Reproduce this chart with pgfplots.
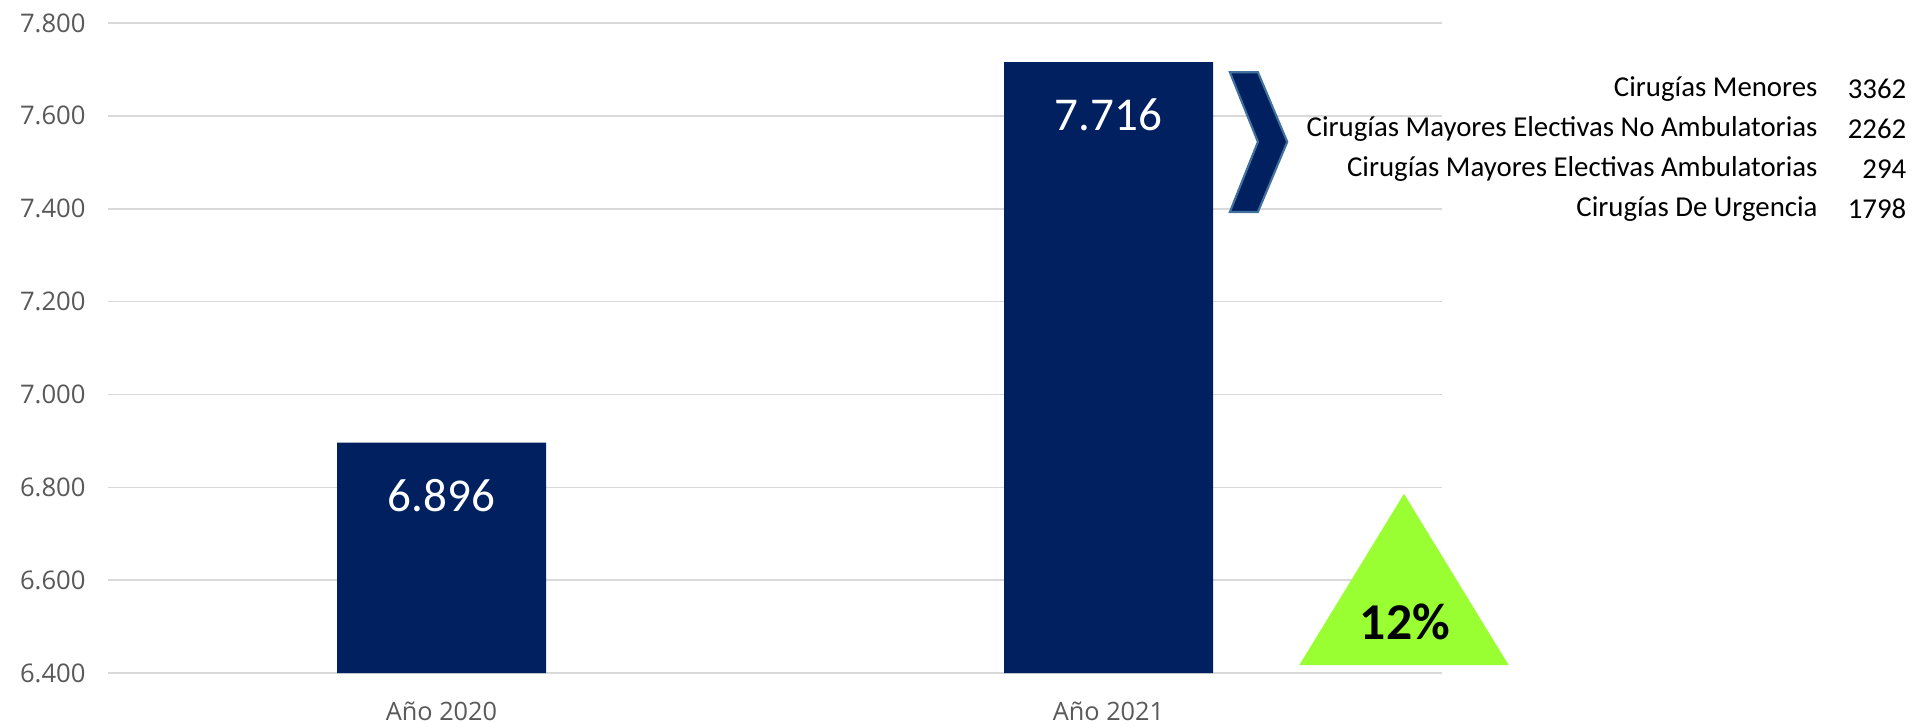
\documentclass[border=0pt]{standalone}
\usepackage{pgfplots}
\pgfplotsset{compat=1.18}
\usepackage{fontspec}
\setmainfont{Carlito}
\newfontfamily\opensans{Open Sans}

\definecolor{barblue}{HTML}{002060}
\definecolor{edgeblue}{HTML}{41719C}
\definecolor{tickgray}{HTML}{595959}
\definecolor{gridgray}{HTML}{D9D9D9}
\definecolor{upgreen}{HTML}{99FF33}

\begin{document}
\begin{tikzpicture}
% 1 px of the reference = 0.01cm
\path[use as bounding box] (-1.08cm,-0.54cm) rectangle (18.08cm,6.73cm);
\begin{axis}[
scale only axis,
width=13.34cm, height=6.5cm,
ybar, bar width=2.09cm,
xmin=-0.5, xmax=1.5,
ymin=6400, ymax=7800,
xtick={0,1}, xticklabels={},
ytick={6400,6600,...,7800},
axis line style={draw=none},
tick style={draw=none},
ymajorgrids,
grid style={gridgray, line width=0.45pt},
yticklabel style={font=\opensans\fontsize{7.3}{8}\selectfont, text=tickgray,
  /pgf/number format/.cd, 1000 sep={.}, assume math mode=true},
yticklabel shift=0.1cm,
clip=false,
nodes near coords,
point meta=y,
every node near coord/.append style={anchor=center, yshift=-0.53cm,
  font=\fontsize{13.4}{15}\selectfont, text=white,
  /pgf/number format/.cd, 1000 sep={.}, assume math mode=true},
]
\addplot[fill=barblue, draw=none] coordinates {(0,6896) (1,7716)};

% category names
\begin{scope}[every node/.style={font=\opensans\fontsize{7.2}{8}\selectfont, text=tickgray}]
\node at (axis cs:0,6318) {Año 2020};
\node at (axis cs:1,6318) {Año 2021};
\end{scope}

% chevron pointing to the breakdown
\draw[edgeblue, line width=0.6pt, fill=barblue]
  (axis cs:1.182,7694) -- (axis cs:1.224,7694) -- (axis cs:1.268,7544)
  -- (axis cs:1.224,7393) -- (axis cs:1.182,7393) -- (axis cs:1.224,7544) -- cycle;

% growth triangle
\fill[upgreen] (axis cs:1.286,6417) -- (axis cs:1.443,6786) -- (axis cs:1.600,6417) -- cycle;
\node[font=\bfseries\fontsize{14.7}{16}\selectfont] at (axis cs:1.4445,6510) {12\%};

% breakdown of 2021
\begin{scope}[every node/.style={anchor=east, inner sep=0pt, font=\fontsize{8.2}{10}\selectfont}]
\node at (axis cs:2.064,7658) {Cirugías Menores};
\node at (axis cs:2.197,7658) {3362};
\node at (axis cs:2.064,7572) {Cirugías Mayores Electivas No Ambulatorias};
\node at (axis cs:2.197,7572) {2262};
\node at (axis cs:2.064,7486) {Cirugías Mayores Electivas Ambulatorias};
\node at (axis cs:2.197,7486) {294};
\node at (axis cs:2.064,7400) {Cirugías De Urgencia};
\node at (axis cs:2.197,7400) {1798};
\end{scope}
\end{axis}
\end{tikzpicture}
\end{document}
